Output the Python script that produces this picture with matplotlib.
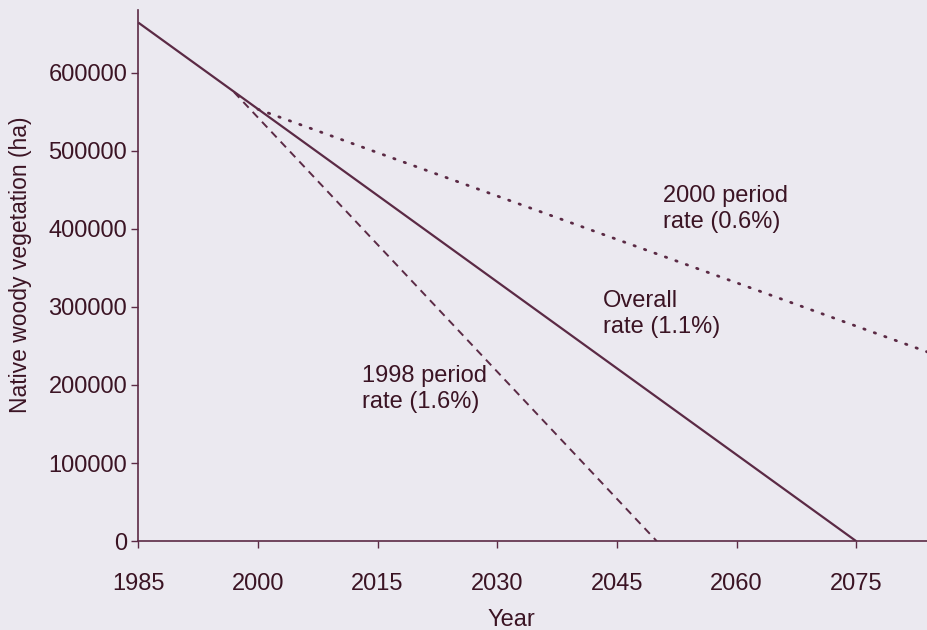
import matplotlib.pyplot as plt

# data
overall_years = [1985, 2075]
overall_vals = [664000, 0]
rate1998_years = [1997, 2050]
rate1998_vals = [575000, 0]
rate2000_years = [2000, 2084]
rate2000_vals = [553000, 242000]

xticks = [1985, 2000, 2015, 2030, 2045, 2060, 2075]
yticks = [0, 100000, 200000, 300000, 400000, 500000, 600000]

bg = "#ebe9f0"
ink = "#3b1424"
line_c = "#5b2a45"

plt.rcParams["font.family"] = ["Liberation Sans", "DejaVu Sans"]

fig = plt.figure(figsize=(9.28, 6.3), dpi=100, facecolor=bg)
ax = fig.add_axes([0.149, 0.141, 0.851, 0.843])
ax.set_facecolor(bg)

ax.plot(overall_years, overall_vals, color=line_c, lw=1.6, solid_capstyle="butt")
ax.plot(rate1998_years, rate1998_vals, color=line_c, lw=1.4, ls=(0, (4, 3)))
ax.plot(rate2000_years, rate2000_vals, color=line_c, lw=2.0, ls=(0, (0.5, 3.5)),
        dash_capstyle="round")

ax.text(2050.8, 425000, "2000 period\nrate (0.6%)", fontsize=17, color=ink,
        va="center", ha="left", linespacing=1.25)
ax.text(2043.3, 291000, "Overall\nrate (1.1%)", fontsize=17, color=ink,
        va="center", ha="left", linespacing=1.25)
ax.text(2013, 195000, "1998 period\nrate (1.6%)", fontsize=17, color=ink,
        va="center", ha="left", linespacing=1.25)

ax.set_xlim(1985, 2084)
ax.set_ylim(0, 680000)
ax.set_xticks(xticks)
ax.set_yticks(yticks)
ax.tick_params(colors=line_c, labelcolor=ink, labelsize=17, length=5, width=1)
ax.tick_params(axis="x", pad=18)
ax.tick_params(axis="y", pad=3)

for s in ["top", "right"]:
    ax.spines[s].set_visible(False)
for s in ["left", "bottom"]:
    ax.spines[s].set_color(line_c)
    ax.spines[s].set_linewidth(1.2)

ax.set_ylabel("Native woody vegetation (ha)", fontsize=16.5, color=ink)
ax.yaxis.set_label_coords(-0.135, 0.52)
ax.set_xlabel("Year", fontsize=17, color=ink)
ax.xaxis.set_label_coords(0.472, -0.128)

fig.savefig("out.png", dpi=100, facecolor=bg)
